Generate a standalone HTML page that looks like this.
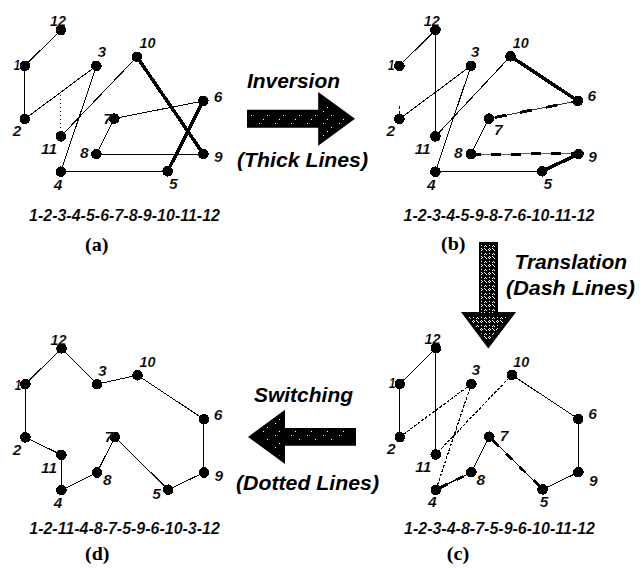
<!DOCTYPE html>
<html><head><meta charset="utf-8">
<style>
html,body{margin:0;padding:0;background:#fff;}
body{width:642px;height:569px;overflow:hidden;position:relative;}
svg{position:absolute;left:0;top:0;}
text{fill:#000;}
.n{font-family:"Liberation Sans",sans-serif;font-weight:bold;font-style:italic;font-size:15.5px;stroke:#fff;stroke-width:0.15px;}
.s{font-family:"Liberation Sans",sans-serif;font-weight:bold;font-style:italic;font-size:16px;stroke:#fff;stroke-width:0.15px;}
.t{font-family:"Liberation Sans",sans-serif;font-weight:bold;font-style:italic;font-size:21px;}
.p{font-family:"Liberation Serif",serif;font-weight:bold;font-size:19px;}
</style></head><body>
<svg width="642" height="569" viewBox="0 0 642 569">
<defs><pattern id="ht" x="0" y="0" width="8" height="8" patternUnits="userSpaceOnUse">
<g fill="#fff"><rect x="1" y="0" width="1" height="1"/><rect x="0" y="1" width="1" height="1"/><rect x="2" y="1" width="1" height="1"/><rect x="1" y="2" width="1" height="1"/>
<rect x="4" y="0" width="1" height="1"/><rect x="5" y="1" width="1" height="1"/><rect x="6" y="2" width="1" height="1"/>
<rect x="1" y="5" width="1" height="1"/>
<rect x="4" y="6" width="1" height="1"/><rect x="5" y="5" width="1" height="1"/><rect x="6" y="6" width="1" height="1"/></g>
</pattern>
<pattern id="ht2" x="1" y="3" width="16" height="12" patternUnits="userSpaceOnUse">
<g fill="#fff"><rect x="2" y="0" width="1" height="1"/><rect x="10" y="4" width="1" height="1"/><rect x="6" y="8" width="1" height="1"/></g>
</pattern></defs>
<g fill="#000" stroke="#000" stroke-linecap="butt" shape-rendering="crispEdges">
<line x1="60.9" y1="30.0" x2="24.8" y2="65.8" stroke-width="1.0"/>
<line x1="24.8" y1="65.8" x2="24.8" y2="119.0" stroke-width="1.0"/>
<line x1="24.8" y1="119.0" x2="96.4" y2="65.8" stroke-width="1.0"/>
<line x1="96.4" y1="65.8" x2="60.8" y2="171.7" stroke-width="1.0"/>
<line x1="60.8" y1="171.7" x2="167.6" y2="171.3" stroke-width="1.0"/>
<line x1="167.6" y1="171.3" x2="203.3" y2="100.9" stroke-width="3.5"/>
<line x1="203.3" y1="100.9" x2="114.3" y2="118.6" stroke-width="1.0"/>
<line x1="114.3" y1="118.6" x2="96.4" y2="154.1" stroke-width="1.0"/>
<line x1="96.4" y1="154.1" x2="203.4" y2="154.1" stroke-width="1.0"/>
<line x1="203.4" y1="154.1" x2="136.9" y2="56.8" stroke-width="3.5"/>
<line x1="136.9" y1="56.8" x2="60.8" y2="136.4" stroke-width="1.0"/>
<line x1="60.8" y1="136.4" x2="60.8" y2="92.0" stroke-width="1" stroke-dasharray="1 3"/>
<line x1="435.5" y1="30.0" x2="399.4" y2="65.8" stroke-width="1.0"/>
<line x1="399.3" y1="106.0" x2="399.3" y2="114.0" stroke-width="1.0" stroke-dasharray="3 2"/>
<line x1="399.4" y1="119.0" x2="471.0" y2="65.8" stroke-width="1.0"/>
<line x1="471.0" y1="65.8" x2="435.4" y2="171.7" stroke-width="1.0"/>
<line x1="435.4" y1="171.7" x2="542.2" y2="171.3" stroke-width="1.0"/>
<line x1="542.2" y1="171.3" x2="578.5" y2="153.9" stroke-width="3.5"/>
<line x1="471.0" y1="154.1" x2="578.5" y2="153.9" stroke-width="1" stroke-opacity="0.6"/>
<line x1="471.0" y1="154.1" x2="578.5" y2="153.9" stroke-width="3" stroke-dasharray="10 10"/>
<line x1="471.0" y1="154.1" x2="488.9" y2="118.6" stroke-width="1.0"/>
<line x1="488.9" y1="118.6" x2="577.9" y2="100.9" stroke-width="1" stroke-opacity="0.8"/>
<line x1="488.9" y1="118.6" x2="577.9" y2="100.9" stroke-width="2.8" stroke-dasharray="0 6 12 8"/>
<line x1="577.9" y1="100.9" x2="510.5" y2="56.3" stroke-width="3.5"/>
<line x1="510.5" y1="56.3" x2="435.4" y2="136.4" stroke-width="1.0"/>
<line x1="435.4" y1="136.4" x2="435.5" y2="30.0" stroke-width="1.0"/>
<line x1="435.9" y1="348.1" x2="399.8" y2="383.9" stroke-width="1.0"/>
<line x1="399.8" y1="383.9" x2="399.8" y2="437.1" stroke-width="1.0"/>
<line x1="399.8" y1="437.1" x2="471.4" y2="383.9" stroke-width="1.2" stroke-dasharray="3 1.5"/>
<line x1="471.4" y1="383.9" x2="435.8" y2="489.8" stroke-width="1.2" stroke-dasharray="3 1.5"/>
<line x1="435.8" y1="489.8" x2="471.4" y2="472.2" stroke-width="1.0"/>
<line x1="435.8" y1="489.8" x2="471.4" y2="472.2" stroke-width="2.8" stroke-dasharray="0 5 8 5"/>
<line x1="471.4" y1="472.2" x2="489.3" y2="436.7" stroke-width="1.0"/>
<line x1="489.3" y1="436.7" x2="542.6" y2="489.4" stroke-width="1.0"/>
<line x1="489.3" y1="436.7" x2="542.6" y2="489.4" stroke-width="2.8" stroke-dasharray="0 5 8 6"/>
<line x1="542.6" y1="489.4" x2="578.4" y2="472.2" stroke-width="1.0"/>
<line x1="578.4" y1="472.2" x2="578.3" y2="419.0" stroke-width="1.0"/>
<line x1="578.3" y1="419.0" x2="511.9" y2="374.9" stroke-width="1.0"/>
<line x1="511.9" y1="374.9" x2="435.8" y2="454.5" stroke-width="1.2" stroke-dasharray="3 1.5"/>
<line x1="435.8" y1="454.5" x2="435.9" y2="348.1" stroke-width="1.0"/>
<line x1="61.5" y1="348.4" x2="25.4" y2="384.2" stroke-width="1.0"/>
<line x1="25.4" y1="384.2" x2="25.4" y2="437.4" stroke-width="1.0"/>
<line x1="25.4" y1="437.4" x2="61.4" y2="454.8" stroke-width="1.0"/>
<line x1="61.4" y1="454.8" x2="61.4" y2="490.1" stroke-width="1.0"/>
<line x1="61.4" y1="490.1" x2="97.0" y2="472.5" stroke-width="1.0"/>
<line x1="97.0" y1="472.5" x2="114.9" y2="437.0" stroke-width="1.0"/>
<line x1="114.9" y1="437.0" x2="168.2" y2="489.7" stroke-width="1.0"/>
<line x1="168.2" y1="489.7" x2="204.0" y2="472.5" stroke-width="1.0"/>
<line x1="204.0" y1="472.5" x2="203.9" y2="419.3" stroke-width="1.0"/>
<line x1="203.9" y1="419.3" x2="137.5" y2="375.2" stroke-width="1.0"/>
<line x1="137.5" y1="375.2" x2="97.0" y2="384.2" stroke-width="1.0"/>
<line x1="97.0" y1="384.2" x2="61.5" y2="348.4" stroke-width="1.0"/>
<circle cx="24.8" cy="65.8" r="4.8"/>
<circle cx="24.8" cy="119.0" r="4.8"/>
<circle cx="96.4" cy="65.8" r="4.8"/>
<circle cx="60.8" cy="171.7" r="4.8"/>
<circle cx="167.6" cy="171.3" r="4.8"/>
<circle cx="203.3" cy="100.9" r="4.8"/>
<circle cx="114.3" cy="118.6" r="4.8"/>
<circle cx="96.4" cy="154.1" r="4.8"/>
<circle cx="203.4" cy="154.1" r="4.8"/>
<circle cx="136.9" cy="56.8" r="4.8"/>
<circle cx="60.8" cy="136.4" r="4.8"/>
<circle cx="60.9" cy="30.0" r="4.8"/>
<circle cx="399.4" cy="65.8" r="4.8"/>
<circle cx="399.4" cy="119.0" r="4.8"/>
<circle cx="471.0" cy="65.8" r="4.8"/>
<circle cx="435.4" cy="171.7" r="4.8"/>
<circle cx="542.2" cy="171.3" r="4.8"/>
<circle cx="577.9" cy="100.9" r="4.8"/>
<circle cx="488.9" cy="118.6" r="4.8"/>
<circle cx="471.0" cy="154.1" r="4.8"/>
<circle cx="578.5" cy="153.9" r="4.8"/>
<circle cx="510.5" cy="56.3" r="4.8"/>
<circle cx="435.4" cy="136.4" r="4.8"/>
<circle cx="435.5" cy="30.0" r="4.8"/>
<circle cx="399.8" cy="383.9" r="4.8"/>
<circle cx="399.8" cy="437.1" r="4.8"/>
<circle cx="471.4" cy="383.9" r="4.8"/>
<circle cx="435.8" cy="489.8" r="4.8"/>
<circle cx="542.6" cy="489.4" r="4.8"/>
<circle cx="578.3" cy="419.0" r="4.8"/>
<circle cx="489.3" cy="436.7" r="4.8"/>
<circle cx="471.4" cy="472.2" r="4.8"/>
<circle cx="578.4" cy="472.2" r="4.8"/>
<circle cx="511.9" cy="374.9" r="4.8"/>
<circle cx="435.8" cy="454.5" r="4.8"/>
<circle cx="435.9" cy="348.1" r="4.8"/>
<circle cx="25.4" cy="384.2" r="4.8"/>
<circle cx="25.4" cy="437.4" r="4.8"/>
<circle cx="97.0" cy="384.2" r="4.8"/>
<circle cx="61.4" cy="490.1" r="4.8"/>
<circle cx="168.2" cy="489.7" r="4.8"/>
<circle cx="203.9" cy="419.3" r="4.8"/>
<circle cx="114.9" cy="437.0" r="4.8"/>
<circle cx="97.0" cy="472.5" r="4.8"/>
<circle cx="204.0" cy="472.5" r="4.8"/>
<circle cx="137.5" cy="375.2" r="4.8"/>
<circle cx="61.4" cy="454.8" r="4.8"/>
<circle cx="61.5" cy="348.4" r="4.8"/>
<text x="50.0" y="25.9" class="n" textLength="16" lengthAdjust="spacingAndGlyphs">12</text>
<text x="13.7" y="69.9" class="n" textLength="6.5" lengthAdjust="spacingAndGlyphs">1</text>
<text x="97.4" y="56.9" class="n">3</text>
<text x="12.7" y="136.1" class="n">2</text>
<text x="41.1" y="154.1" class="n" textLength="16" lengthAdjust="spacingAndGlyphs">11</text>
<text x="80.1" y="158.3" class="n">8</text>
<text x="53.8" y="189.9" class="n">4</text>
<text x="103.3" y="123.5" class="n">7</text>
<text x="139.5" y="47.7" class="n" textLength="16" lengthAdjust="spacingAndGlyphs">10</text>
<text x="213.8" y="101.5" class="n">6</text>
<text x="214.0" y="162.0" class="n">9</text>
<text x="169.0" y="189.4" class="n">5</text>
<text x="423.8" y="25.9" class="n" textLength="16" lengthAdjust="spacingAndGlyphs">12</text>
<text x="388.0" y="69.9" class="n" textLength="6.5" lengthAdjust="spacingAndGlyphs">1</text>
<text x="470.8" y="56.9" class="n">3</text>
<text x="386.4" y="136.1" class="n">2</text>
<text x="414.7" y="154.1" class="n" textLength="16" lengthAdjust="spacingAndGlyphs">11</text>
<text x="453.9" y="158.3" class="n">8</text>
<text x="426.9" y="189.9" class="n">4</text>
<text x="494.0" y="135.3" class="n">7</text>
<text x="512.7" y="47.9" class="n" textLength="16" lengthAdjust="spacingAndGlyphs">10</text>
<text x="587.4" y="101.4" class="n">6</text>
<text x="588.3" y="162.4" class="n">9</text>
<text x="543.5" y="189.4" class="n">5</text>
<text x="424.4" y="343.5" class="n" textLength="16" lengthAdjust="spacingAndGlyphs">12</text>
<text x="389.0" y="388.1" class="n" textLength="6.5" lengthAdjust="spacingAndGlyphs">1</text>
<text x="471.6" y="374.7" class="n">3</text>
<text x="386.9" y="454.4" class="n">2</text>
<text x="415.3" y="471.9" class="n" textLength="16" lengthAdjust="spacingAndGlyphs">11</text>
<text x="476.5" y="484.6" class="n">8</text>
<text x="428.0" y="506.8" class="n">4</text>
<text x="499.7" y="440.9" class="n">7</text>
<text x="513.2" y="366.6" class="n" textLength="16" lengthAdjust="spacingAndGlyphs">10</text>
<text x="588.3" y="418.9" class="n">6</text>
<text x="589.0" y="485.5" class="n">9</text>
<text x="539.8" y="507.4" class="n">5</text>
<text x="50.6" y="344.5" class="n" textLength="16" lengthAdjust="spacingAndGlyphs">12</text>
<text x="14.8" y="389.7" class="n" textLength="6.5" lengthAdjust="spacingAndGlyphs">1</text>
<text x="98.0" y="376.0" class="n">3</text>
<text x="12.7" y="454.9" class="n">2</text>
<text x="41.0" y="472.9" class="n" textLength="16" lengthAdjust="spacingAndGlyphs">11</text>
<text x="103.0" y="485.2" class="n">8</text>
<text x="53.8" y="507.7" class="n">4</text>
<text x="104.4" y="442.3" class="n">7</text>
<text x="139.4" y="366.6" class="n" textLength="16" lengthAdjust="spacingAndGlyphs">10</text>
<text x="213.7" y="419.9" class="n">6</text>
<text x="214.6" y="481.2" class="n">9</text>
<text x="152.3" y="498.7" class="n">5</text>
</g>
<text x="29" y="221" class="s" textLength="191" lengthAdjust="spacingAndGlyphs">1-2-3-4-5-6-7-8-9-10-11-12</text>
<text x="403.5" y="220.5" class="s" textLength="191" lengthAdjust="spacingAndGlyphs">1-2-3-4-5-9-8-7-6-10-11-12</text>
<text x="404" y="534" class="s" textLength="191" lengthAdjust="spacingAndGlyphs">1-2-3-4-8-7-5-9-6-10-11-12</text>
<text x="29.3" y="534.3" class="s" textLength="190.5" lengthAdjust="spacingAndGlyphs">1-2-11-4-8-7-5-9-6-10-3-12</text>
<text x="85" y="250.8" class="p" textLength="23.5" lengthAdjust="spacingAndGlyphs">(a)</text>
<text x="441" y="250.3" class="p" textLength="24.5" lengthAdjust="spacingAndGlyphs">(b)</text>
<text x="446.8" y="560.1" class="p" textLength="22.5" lengthAdjust="spacingAndGlyphs">(c)</text>
<text x="85" y="560.1" class="p" textLength="24.5" lengthAdjust="spacingAndGlyphs">(d)</text>
<text x="247" y="88" class="t" textLength="93" lengthAdjust="spacingAndGlyphs">Inversion</text>
<text x="237" y="167" class="t" textLength="131" lengthAdjust="spacingAndGlyphs">(Thick Lines)</text>
<text x="514.5" y="269" class="t" textLength="112.5" lengthAdjust="spacingAndGlyphs">Translation</text>
<text x="506" y="295" class="t" textLength="129" lengthAdjust="spacingAndGlyphs">(Dash Lines)</text>
<text x="254" y="401.5" class="t" textLength="99" lengthAdjust="spacingAndGlyphs">Switching</text>
<text x="236" y="490" class="t" textLength="143" lengthAdjust="spacingAndGlyphs">(Dotted Lines)</text>
<polygon points="247,109.8 318.2,109.8 318.2,92.1 355,118.8 318.2,145.7 318.2,127.8 247,127.8" fill="#000"/>
<polygon points="479,242 498,242 498,312 516.1,312 488.3,348.5 461,312 479,312" fill="#000"/>
<path d="M481,244 H496 V313 H481 Z M467,315 H509 L488,342 Z" fill="url(#ht)"/>
<polygon points="356,428 285,428 285,409.8 248,436.9 285,463.9 285,445.8 356,445.8" fill="#000"/>
<path d="M258,433 L282,416 V458 Z M286,431 H345 V443 H286 Z" fill="url(#ht2)"/>
<path d="M250,112 H316 V125 H250 Z M321,98 L347,118 L321,140 Z" fill="url(#ht2)"/>
</svg>
</body></html>
